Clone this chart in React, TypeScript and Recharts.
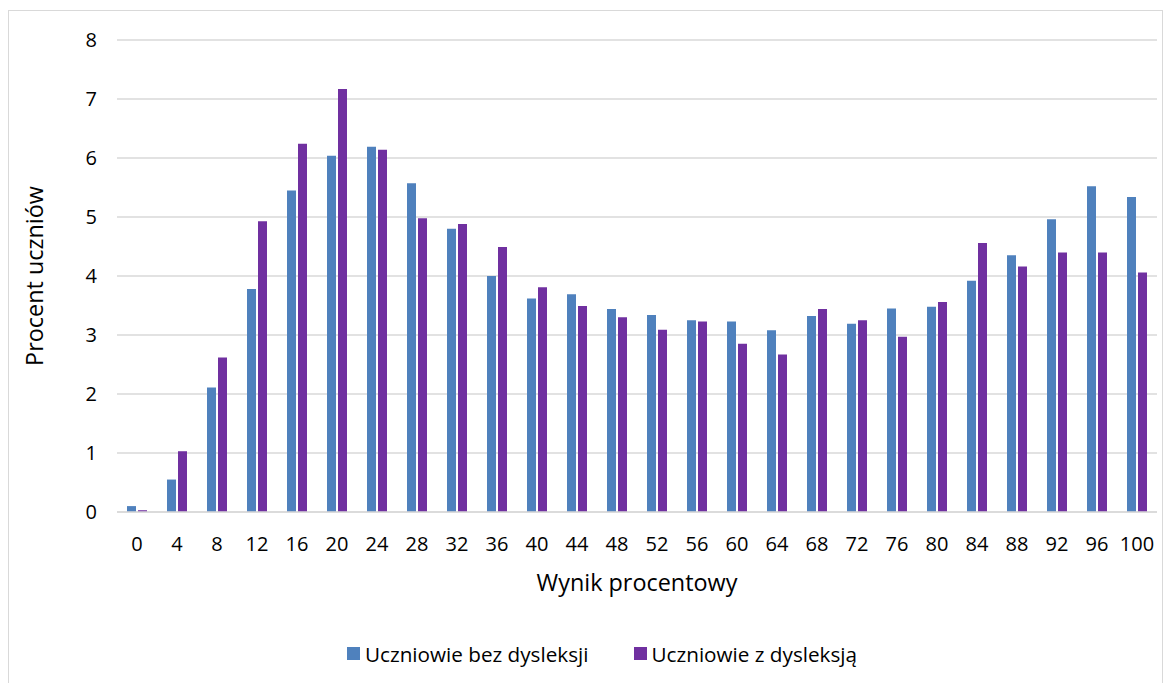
import React from "react";
import { BarChart, Bar, XAxis, YAxis, CartesianGrid, Legend, Label } from "recharts";

const categories = ["0","4","8","12","16","20","24","28","32","36","40","44","48","52","56","60","64","68","72","76","80","84","88","92","96","100"];
const bezDysleksji = [0.10,0.55,2.11,3.78,5.45,6.04,6.19,5.57,4.80,4.00,3.62,3.69,3.44,3.34,3.25,3.23,3.08,3.32,3.19,3.45,3.48,3.92,4.35,4.96,5.52,5.34];
const zDysleksja = [0.03,1.03,2.62,4.93,6.24,7.17,6.14,4.98,4.88,4.49,3.81,3.49,3.30,3.09,3.23,2.85,2.67,3.44,3.25,2.97,3.56,4.56,4.16,4.40,4.40,4.06];
const yTicks = [0,1,2,3,4,5,6,7,8];

const seriesNames = ["Uczniowie bez dysleksji", "Uczniowie z dysleksją"];
const seriesColors = ["#4F81BD", "#7030A0"];

const data = categories.map((c, i) => ({ cat: c, a: bezDysleksji[i], b: zDysleksja[i] }));

const FONT = "'Open Sans', sans-serif";

const LegendContent = () => (
  <div style={{ display: "flex", justifyContent: "center", alignItems: "center", height: 27, paddingLeft: 38, fontFamily: FONT, fontSize: 20.7, color: "#000" }}>
    {seriesNames.map((n, i) => (
      <div key={n} style={{ display: "flex", alignItems: "center", marginRight: i === 0 ? 45 : 0 }}>
        <span style={{ display: "inline-block", width: 13, height: 13, background: seriesColors[i], marginRight: 5 }} />
        <span>{n}</span>
      </div>
    ))}
  </div>
);

export default function App() {
  return (
    <div style={{ width: 1153, height: 690, border: "1px solid #d9d9d9", marginTop: 2, background: "#fff" }}>
      <BarChart
        width={1153}
        height={680}
        data={data}
        margin={{ top: 29, right: 5, left: 0, bottom: 24 }}
        barSize={9}
        barGap={2}
      >
        <CartesianGrid vertical={false} stroke="#d9d9d9" strokeWidth={1.3} />
        <XAxis
          dataKey="cat"
          height={128}
          tickLine={false}
          axisLine={{ stroke: "#d9d9d9", strokeWidth: 1.3 }}
          tick={{ fill: "#000", fontSize: 20, fontFamily: FONT }}
          tickMargin={19}
          interval={0}
        >
          <Label value="Wynik procentowy" position="insideTop" offset={62} style={{ fill: "#000", fontSize: 23.4, fontFamily: FONT }} />
        </XAxis>
        <YAxis
          width={108}
          domain={[0, 8]}
          ticks={yTicks}
          tickLine={false}
          axisLine={false}
          tick={{ fill: "#000", fontSize: 20, fontFamily: FONT }}
          tickMargin={14}
        >
          <Label value="Procent uczniów" angle={-90} position="insideLeft" offset={26} style={{ textAnchor: "middle", fill: "#000", fontSize: 23.4, fontFamily: FONT }} />
        </YAxis>
        <Legend verticalAlign="bottom" align="center" content={<LegendContent />} wrapperStyle={{ height: 27 }} />
        <Bar dataKey="a" name={seriesNames[0]} fill={seriesColors[0]} isAnimationActive={false} />
        <Bar dataKey="b" name={seriesNames[1]} fill={seriesColors[1]} isAnimationActive={false} />
      </BarChart>
    </div>
  );
}
